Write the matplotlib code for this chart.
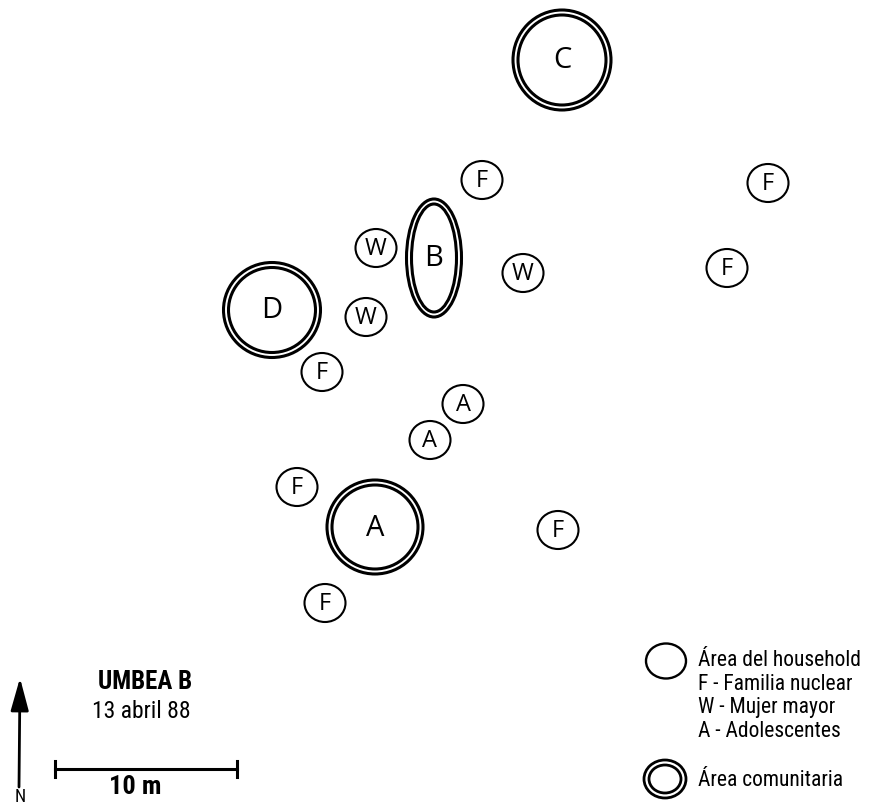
import matplotlib
matplotlib.use("Agg")
import matplotlib.pyplot as plt
from matplotlib.patches import Ellipse

# community areas (double outline): label, x, y, width, height
com_labels = ["C", "B", "D", "A"]
com_x = [562, 434, 272, 375]
com_y = [60, 258, 310, 527]
com_w = [98, 55, 97, 96]
com_h = [100, 118, 95, 94]

# household areas (single outline)
hh_labels = ["F", "F", "F", "W", "W", "W", "F", "A", "A", "F", "F", "F"]
hh_x = [482, 768, 727, 376, 523, 366, 322, 463, 430, 297, 558, 325]
hh_y = [180, 183, 268, 248, 273, 317, 372, 404, 440, 487, 530, 603]
hh_w = [41, 41, 41, 41, 41, 41, 41, 41, 41, 41, 41, 41]
hh_h = [38, 38, 38, 38, 38, 38, 38, 38, 38, 38, 38, 38]

legend_lines = ["Área del household", "F - Familia nuclear",
                "W - Mujer mayor", "A - Adolescentes"]

narrow = ["Roboto Condensed", "DejaVu Sans"]
label_font = ["Open Sans", "DejaVu Sans"]

fig = plt.figure(figsize=(8.69, 8.07), dpi=100)
ax = fig.add_axes([0, 0, 1, 1])
ax.set_xlim(0, 869)
ax.set_ylim(807, 0)
ax.axis("off")


def double_ellipse(x, y, w, h, lw=2.2):
    ax.add_patch(Ellipse((x, y), w, h, fill=False, lw=lw, ec="black"))
    ax.add_patch(Ellipse((x, y), w - 10, h - 10, fill=False, lw=lw, ec="black"))


for lab, x, y, w, h in zip(com_labels, com_x, com_y, com_w, com_h):
    double_ellipse(x, y, w, h)
    ax.text(x, y + 1, lab, ha="center", va="center", fontsize=21, family=label_font)

for lab, x, y, w, h in zip(hh_labels, hh_x, hh_y, hh_w, hh_h):
    ax.add_patch(Ellipse((x, y), w, h, fill=False, lw=1.5, ec="black"))
    ax.text(x, y + 1, lab, ha="center", va="center", fontsize=17, family=label_font)

# legend
ax.add_patch(Ellipse((666, 661), 40, 35, fill=False, lw=1.7, ec="black"))
for i, t in enumerate(legend_lines):
    ax.text(698, 661 + i * 23.5, t, ha="left", va="center",
            fontsize=15.5, family=narrow)
double_ellipse(665, 779, 42, 38, lw=2.0)
ax.text(698, 780, "Área comunitaria", ha="left", va="center", fontsize=15.5, family=narrow)

# title block
ax.text(145, 682, "UMBEA B", ha="center", va="center", fontsize=18,
        family=narrow, fontweight="bold")
ax.text(141, 712, "13 abril 88", ha="center", va="center", fontsize=17, family=narrow)

# scale bar
ax.plot([55, 237], [769, 769], color="black", lw=2.2)
ax.plot([55, 55], [761, 777], color="black", lw=2.2)
ax.plot([237, 237], [761, 777], color="black", lw=2.2)
ax.text(135, 787, "10 m", ha="center", va="center", fontsize=19,
        family=narrow, fontweight="bold")

# north arrow
ax.annotate("", xy=(20, 678), xytext=(19, 787),
            arrowprops=dict(arrowstyle="-|>,head_length=2.0,head_width=0.55",
                            color="black", lw=2.0, shrinkA=0, shrinkB=0))
ax.text(20, 806, "N", ha="center", va="bottom", fontsize=13, family=narrow)

fig.savefig("out.png", dpi=100)
